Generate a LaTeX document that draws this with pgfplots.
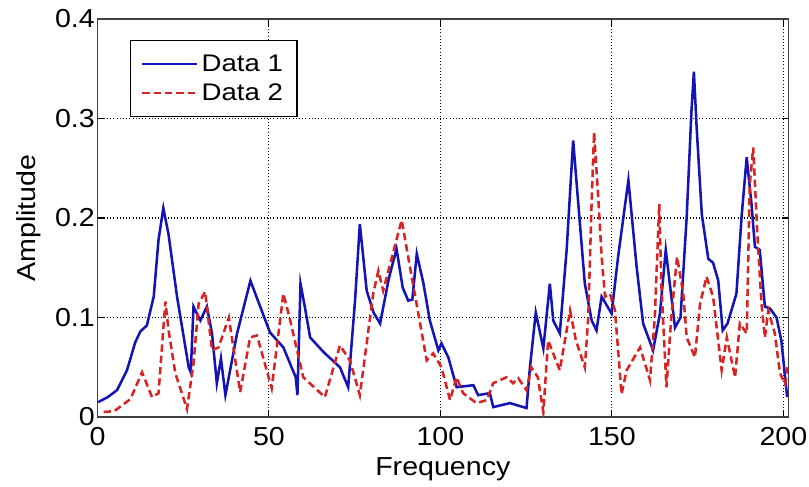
\documentclass[border=0pt]{standalone}
\usepackage{fontspec}
\setmainfont{Liberation Sans}[FakeStretch=1.1]
\newfontfamily\legfont{Liberation Sans}[FakeStretch=1.15]
\usepackage{pgfplots}
\pgfplotsset{compat=1.18}
\definecolor{dblue}{RGB}{20,20,180}
\definecolor{dred}{RGB}{215,35,35}
\begin{document}
\begin{tikzpicture}
\begin{axis}[
  at={(0,0)}, anchor=south west,
  scale only axis, width=518pt, height=298.5pt,
  xmin=0, xmax=201.4, ymin=0, ymax=0.4,
  xtick={0,50,100,150,200}, ytick={0,0.1,0.2,0.3,0.4},
  yticklabels={0,0.1,0.2,0.3,0.4},
  tick align=inside, major tick length=5pt,
  grid=major, major grid style={black, dotted, line width=0.8pt},
  axis line style={line width=0.9pt, black!75},
  tick style={black, line width=0.8pt},
  ticklabel style={font=\fontsize{19.5}{22}\selectfont},
  xticklabel style={yshift=-4pt},
  yticklabel style={xshift=1.5pt},
  /pgf/number format/assume math mode=true,
  xlabel={Frequency}, ylabel={Amplitude},
  label style={font=\fontsize{19.5}{22}\selectfont},
  xlabel style={yshift=-2pt},
  ylabel style={yshift=4pt},
  legend style={at={(0.047,0.947)}, anchor=north west, font=\legfont\fontsize{18}{21}\selectfont,
    draw=black, line width=0.8pt, inner xsep=8pt, inner ysep=8pt, row sep=3pt,
    nodes={inner sep=2.5pt}},
  legend cell align=left,
  legend image code/.code={\draw[#1] (0pt,0pt) -- (41pt,0pt);},
]
\addplot[dblue, line width=1.9pt] coordinates {
(0.2,0.015) (3,0.020) (5.7,0.027) (8.6,0.047) (11.0,0.075) (12.5,0.086) (14.4,0.092) (16.4,0.121) (17.8,0.178) (19.2,0.210)
(20.7,0.184) (23.2,0.121) (26.6,0.050) (27.2,0.045) (28.0,0.111) (30.0,0.097) (31.9,0.111) (33.4,0.084) (34.8,0.034)
(36.0,0.059) (37.3,0.022) (40.7,0.084) (44.6,0.137) (47,0.115) (50.3,0.085) (54.2,0.070) (57.8,0.040) (58.3,0.022)
(59.2,0.134) (60.5,0.110) (62.0,0.080) (66,0.065) (70.7,0.050) (73.1,0.030) (75.1,0.117) (76.5,0.194)
(78.5,0.127) (80.5,0.105) (82.4,0.094) (85,0.140) (87.2,0.169) (89.0,0.130) (90.6,0.117) (91.8,0.118) (93.1,0.164) (95,0.135)
(96.9,0.097) (99.4,0.067) (100.3,0.074) (102.3,0.060) (104.7,0.030) (109.6,0.032) (111.0,0.022) (114.4,0.024)
(115.4,0.010) (120.3,0.014) (125.1,0.009) (126.1,0.050) (127.8,0.105) (130.0,0.069) (131.9,0.134) (132.9,0.097)
(134.8,0.084) (136.8,0.168) (138.7,0.278) (140.2,0.214) (142.1,0.134) (144.1,0.097) (145.5,0.087) (147.0,0.121)
(149.9,0.104) (151.8,0.161) (154.8,0.238) (157.2,0.151) (159.1,0.094) (162.0,0.067) (164.0,0.104) (165.7,0.168)
(168.4,0.090) (170.0,0.100) (171.8,0.201) (173.2,0.308) (173.9,0.347) (174.7,0.291) (176.2,0.204) (178.1,0.159)
(179.5,0.155) (181.0,0.137) (182.3,0.087) (183.7,0.094) (186.3,0.124) (187.8,0.201) (189.3,0.261) (190.7,0.214)
(191.7,0.171) (193.1,0.168) (194.6,0.111) (196.1,0.109) (198.0,0.100) (199.4,0.077) (201.1,0.020)
};
\addlegendentry{Data 1}
\addplot[dred, line width=1.9pt, dash pattern=on 5.5pt off 3pt] coordinates {
(1.8,0.005) (4.9,0.006) (9.6,0.018) (13.0,0.045) (15.9,0.020) (17.8,0.024) (19.8,0.116) (20.7,0.088) (22.7,0.044)
(26.1,0.008) (28.0,0.054) (29.5,0.114) (31.4,0.126) (33.4,0.067) (35.3,0.070) (38.3,0.100) (41.6,0.025) (44.5,0.080)
(46.5,0.082) (50.8,0.029) (54.2,0.124) (56,0.100) (60.0,0.040) (66.3,0.020) (70.7,0.072) (73.6,0.057) (76.5,0.022)
(80.4,0.124) (81.9,0.147) (83.3,0.127) (88.7,0.198) (91.1,0.151)
(96.0,0.057) (97.9,0.064) (100.3,0.050) (102.8,0.017) (104.7,0.040) (106.6,0.024) (110.5,0.014) (113.5,0.017)
(115.4,0.034) (119.3,0.040) (121.2,0.034) (122.7,0.039) (125.1,0.027) (126.5,0.050) (128.4,0.040) (130.0,0.005)
(131.4,0.077) (134.8,0.047) (137.8,0.107) (139.5,0.077) (142.1,0.050) (143.1,0.100) (144.1,0.218) (144.8,0.286)
(146.0,0.221) (147.0,0.161) (148.0,0.121) (149.4,0.124) (150.9,0.107) (152.8,0.023) (154.3,0.047) (158.2,0.070)
(161.1,0.037) (162.5,0.100) (163.8,0.214) (164.4,0.134) (165.9,0.030) (167.3,0.100) (169.0,0.161) (170.8,0.124)
(171.8,0.080) (174.2,0.060) (175.7,0.114) (177.6,0.141) (179.5,0.121) (182.0,0.047) (183.5,0.080) (185.9,0.040)
(187.3,0.094) (189.3,0.084) (190.2,0.234) (191.2,0.271) (192.4,0.184) (193.6,0.114) (194.6,0.080) (195.6,0.107)
(197.5,0.084) (199.0,0.044) (200.5,0.033) (201.2,0.050)
};
\addlegendentry{Data 2}
\end{axis}
\pgfresetboundingbox
\path[use as bounding box] (-73.1pt,-51.75pt) rectangle (533.6pt,312.75pt);
\end{tikzpicture}
\end{document}
